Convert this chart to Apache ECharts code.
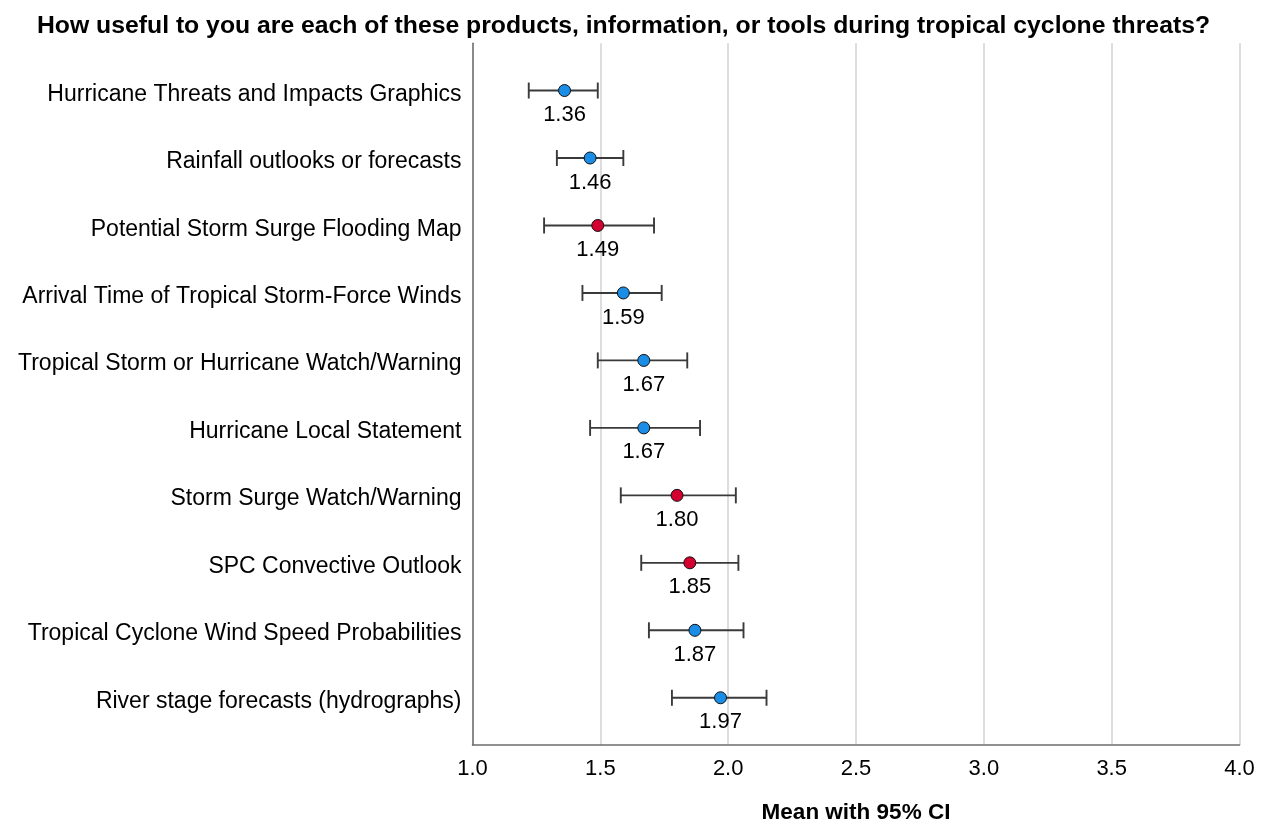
<!DOCTYPE html>
<html>
<head>
<meta charset="utf-8">
<script src="https://cdn.jsdelivr.net/npm/echarts@6/dist/echarts.min.js"></script>
<style>
  html, body { margin: 0; padding: 0; background: #ffffff; }
  #chart { width: 1265px; height: 820px; }
</style>
</head>
<body>
<div id="chart"></div>
<script>
// Products rated on usefulness, top row first
const categories = [
  'Hurricane Threats and Impacts Graphics',
  'Rainfall outlooks or forecasts',
  'Potential Storm Surge Flooding Map',
  'Arrival Time of Tropical Storm-Force Winds',
  'Tropical Storm or Hurricane Watch/Warning',
  'Hurricane Local Statement',
  'Storm Surge Watch/Warning',
  'SPC Convective Outlook',
  'Tropical Cyclone Wind Speed Probabilities',
  'River stage forecasts (hydrographs)'
];
// Mean rating and 95% confidence interval bounds
const means = [1.36, 1.46, 1.49, 1.59, 1.67, 1.67, 1.80, 1.85, 1.87, 1.97];
const ciLow = [1.22, 1.33, 1.28, 1.43, 1.49, 1.46, 1.58, 1.66, 1.69, 1.78];
const ciHigh = [1.49, 1.59, 1.71, 1.74, 1.84, 1.89, 2.03, 2.04, 2.06, 2.15];
// Storm-surge / convective products are marked in red
const highlighted = [false, false, true, false, false, false, true, true, false, false];
const xTicks = { min: 1.0, max: 4.0, step: 0.5 };

const FONT = '"Liberation Sans", Arial, Helvetica, sans-serif';
const BLUE = '#1a8ee6';
const RED = '#d4002f';

const chart = echarts.init(document.getElementById('chart'), null, { renderer: 'canvas' });

const rowIdx = categories.map((_, i) => i);
// Row names sit slightly below the marker line of each row
const labelNudge = 0.055;

chart.setOption({
  backgroundColor: '#ffffff',
  animation: false,
  title: {
    text: 'How useful to you are each of these products, information, or tools during tropical cyclone threats?',
    left: 32,
    top: 9,
    textStyle: { fontFamily: FONT, fontSize: 24.75, fontWeight: 'bold', color: '#000' }
  },
  grid: {
    left: 472.5, right: 25.5, top: 43.3, bottom: 75,
    containLabel: false,
    outerBoundsMode: 'none'
  },
  xAxis: {
    type: 'value',
    min: xTicks.min,
    max: xTicks.max,
    interval: xTicks.step,
    name: 'Mean with 95% CI',
    nameLocation: 'middle',
    nameGap: 56,
    nameTextStyle: { fontFamily: FONT, fontSize: 22.5, fontWeight: 'bold', color: '#000' },
    axisLine: { show: true, onZero: false, lineStyle: { color: '#6e6e6e', width: 1.5 } },
    axisTick: { show: false },
    axisLabel: {
      fontFamily: FONT, fontSize: 22, color: '#000', margin: 13,
      formatter: v => v.toFixed(1)
    },
    splitLine: { show: true, lineStyle: { color: '#d2d2d2', width: 1.5 } }
  },
  yAxis: {
    type: 'value',
    inverse: true,
    min: -0.7,
    max: 9.7,
    axisLine: { show: true, onZero: false, lineStyle: { color: '#6e6e6e', width: 1.5 } },
    axisTick: { show: false },
    splitLine: { show: false },
    axisLabel: {
      customValues: rowIdx.map(i => i + labelNudge),
      fontFamily: FONT, fontSize: 23, color: '#000', margin: 11,
      formatter: v => categories[Math.round(v)] || ''
    }
  },
  series: [
    {
      // Confidence-interval whiskers with end caps
      type: 'custom',
      data: rowIdx.map(i => [ciLow[i], ciHigh[i], i]),
      encode: { x: [0, 1], y: 2 },
      renderItem: (params, api) => {
        const lo = api.coord([api.value(0), api.value(2)]);
        const hi = api.coord([api.value(1), api.value(2)]);
        const cap = 8;
        const style = { stroke: '#3a3a3a', lineWidth: 1.9 };
        return {
          type: 'group',
          children: [
            { type: 'line', shape: { x1: lo[0], y1: lo[1], x2: hi[0], y2: hi[1] }, style },
            { type: 'line', shape: { x1: lo[0], y1: lo[1] - cap, x2: lo[0], y2: lo[1] + cap }, style },
            { type: 'line', shape: { x1: hi[0], y1: hi[1] - cap, x2: hi[0], y2: hi[1] + cap }, style }
          ]
        };
      },
      z: 2
    },
    {
      // Mean markers with value labels beneath
      type: 'scatter',
      symbol: 'circle',
      symbolSize: 12,
      data: rowIdx.map(i => ({
        value: [means[i], i],
        itemStyle: { color: highlighted[i] ? RED : BLUE, borderColor: '#111', borderWidth: 1, opacity: 1 }
      })),
      emphasis: { disabled: true },
      label: {
        show: true,
        position: 'bottom',
        distance: 7,
        fontFamily: FONT,
        fontSize: 22,
        color: '#000',
        formatter: p => p.value[0].toFixed(2)
      },
      z: 3
    }
  ]
});
</script>
</body>
</html>
